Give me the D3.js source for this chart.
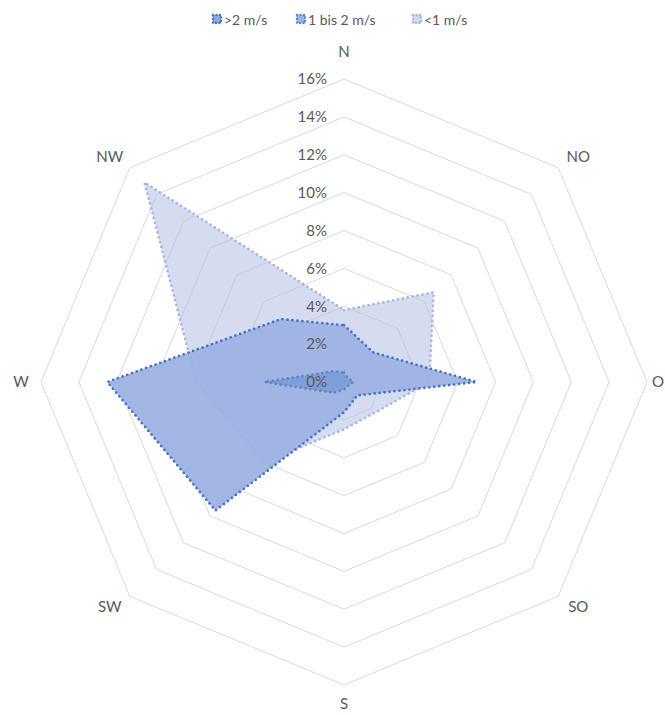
<!DOCTYPE html>
<html>
<head>
<meta charset="utf-8">
<script src="https://cdn.jsdelivr.net/npm/d3@7/dist/d3.min.js"></script>
<style>
  html, body { margin: 0; padding: 0; background: #fff; }
  svg { display: block; font-family: Lato, "Open Sans", sans-serif; }
</style>
</head>
<body>
<svg id="chart" width="665" height="715"></svg>
<script>
// Wind directions, clockwise from north
const directions = ["N", "NO", "O", "SO", "S", "SW", "W", "NW"];

// Share of hours per direction (%)
const fastWind   = [3.0, 2.2, 7.0, 1.0, 1.6, 9.6, 12.5, 4.7];   // >2 m/s
const mediumWind = [0.5, 0.3, 0.5, 0.3, 0.4, 0.8, 4.2, 0.8];    // 1 bis 2 m/s
const slowWind   = [3.8, 6.7, 4.5, 2.3, 2.5, 6.0, 7.8, 14.9];   // <1 m/s

const tickValues = [0, 2, 4, 6, 8, 10, 12, 14, 16];

const seriesNames  = [">2 m/s", "1 bis 2 m/s", "<1 m/s"];
const seriesFill   = ["#9db2e2", "#5b86cf", "#b3bfe4"];
const seriesStroke = ["#4472c4", "#5b86cf", "#a8b6df"];
const legendFill   = ["#4472c4", "#5b86cf", "#b3bfe4"];

const svg = d3.select("#chart");
const cx = 344, cy = 382, R = 303;

const r = d3.scaleLinear().domain([0, 16]).range([0, R]);
const angle = d3.scalePoint().domain(directions).range([0, 2 * Math.PI * 7 / 8]);

const pt = (dir, v) => {
  const a = angle(dir);
  return [cx + r(v) * Math.sin(a), cy - r(v) * Math.cos(a)];
};

// Octagonal grid rings
const ring = d3.line().curve(d3.curveLinearClosed);
const grid = svg.append("g");
tickValues.filter(t => t > 0).forEach(t => {
  grid.append("path")
    .attr("d", ring(directions.map(d => pt(d, t))))
    .attr("fill", "none")
    .attr("stroke", "#d9d9d9")
    .attr("stroke-width", 1);
});

// Series polygons, back to front
const order = [2, 0, 1];
const seriesData = [fastWind, mediumWind, slowWind];
const fillOpacity = [0.95, 0.5, 0.55];
const layer = svg.append("g");
order.forEach(i => {
  layer.append("path")
    .attr("d", ring(directions.map((d, k) => pt(d, seriesData[i][k]))))
    .attr("fill", seriesFill[i])
    .attr("fill-opacity", fillOpacity[i])
    .attr("stroke", seriesStroke[i])
    .attr("stroke-width", 2.75)
    .attr("stroke-dasharray", "0 5")
    .attr("stroke-linecap", "round")
    .attr("stroke-linejoin", "round");
});

// Value labels along the north axis
svg.append("g").selectAll("text")
  .data(tickValues)
  .join("text")
  .attr("x", cx - 17)
  .attr("y", d => cy - r(d))
  .attr("dy", "0.35em")
  .attr("text-anchor", "end")
  .attr("font-size", 15)
  .attr("fill", "#595959")
  .text(d => d + "%");

// Direction labels, set just outside the outer ring
const labelPos = d => {
  const a = angle(d);
  const s = Math.round(Math.sin(a) * 100) / 100;
  const c = Math.round(Math.cos(a) * 100) / 100;
  const [x, y] = pt(d, 16);
  const onAxis = Math.abs(s) < 0.01 || Math.abs(c) < 0.01;
  const dx = Math.sign(s) * 20;
  const dy = onAxis ? (c > 0 ? -27 : c < 0 ? 19 : 0) : -Math.sign(c) * 10.5;
  return [x + dx, y + dy];
};
svg.append("g").selectAll("text")
  .data(directions)
  .join("text")
  .attr("x", d => d === "O" ? 664 : labelPos(d)[0])
  .attr("y", d => labelPos(d)[1])
  .attr("dy", "0.35em")
  .attr("text-anchor", d => d === "O" ? "end" : "middle")
  .attr("font-size", 15)
  .attr("fill", "#595959")
  .text(d => d);

// Legend
const legendX = [212, 296, 412];
const legend = svg.append("g");
seriesNames.forEach((name, i) => {
  const g = legend.append("g").attr("transform", `translate(${legendX[i]},20)`);
  g.append("rect")
    .attr("x", 1).attr("y", -5).attr("width", 8).attr("height", 8)
    .attr("fill", legendFill[i])
    .attr("fill-opacity", 0.6)
    .attr("stroke", seriesStroke[i])
    .attr("stroke-width", 2.5)
    .attr("stroke-dasharray", "0 3.5")
    .attr("stroke-linecap", "round");
  g.append("text")
    .attr("x", 12).attr("y", 0)
    .attr("dy", "0.35em")
    .attr("font-size", 14)
    .attr("fill", "#595959")
    .text(name);
});
</script>
</body>
</html>
